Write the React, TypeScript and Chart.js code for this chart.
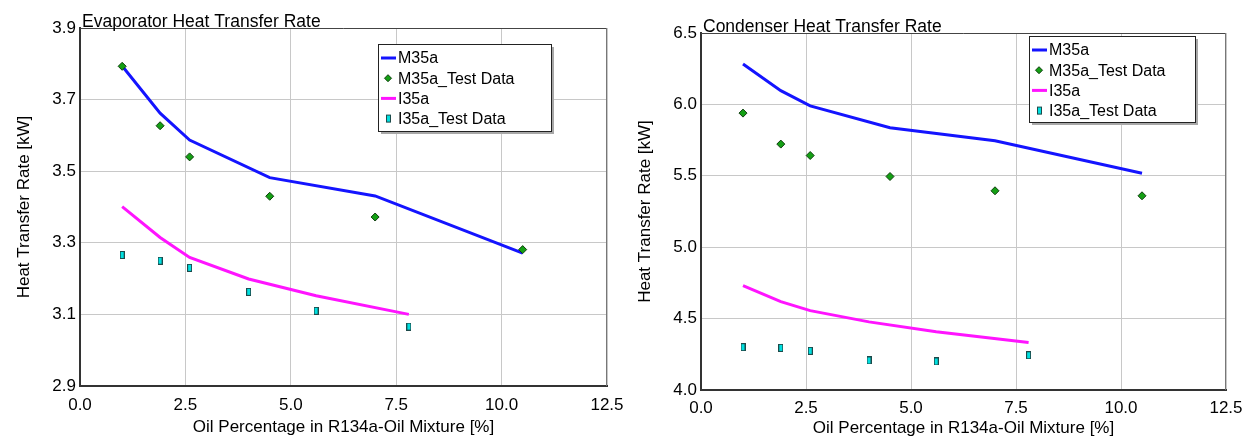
import React, { useEffect, useRef } from 'react';
import { Chart, registerables } from 'chart.js';

Chart.register(...registerables);

// ---- data ----
const xTicks = [0, 2.5, 5.0, 7.5, 10.0, 12.5];
const evapYTicks = [2.9, 3.1, 3.3, 3.5, 3.7, 3.9];
const condYTicks = [4.0, 4.5, 5.0, 5.5, 6.0, 6.5];

const m35aX = [1.0, 1.9, 2.6, 4.5, 7.0, 10.5];
const i35aX = [1.0, 1.9, 2.6, 4.0, 5.6, 7.8];

const evapM35a = [3.794, 3.662, 3.587, 3.482, 3.431, 3.271];
const evapM35aTest = [3.793, 3.627, 3.54, 3.43, 3.372, 3.281];
const evapI35a = [3.401, 3.315, 3.259, 3.199, 3.152, 3.1];
const evapI35aTest = [3.266, 3.25, 3.23, 3.163, 3.11, 3.066];

const condM35a = [6.283, 6.096, 5.99, 5.836, 5.745, 5.518];
const condM35aTest = [5.939, 5.722, 5.642, 5.495, 5.395, 5.36];
const condI35a = [4.731, 4.619, 4.556, 4.477, 4.408, 4.332];
const condI35aTest = [4.3, 4.295, 4.274, 4.207, 4.2, 4.243];

const seriesNames = ['M35a', 'M35a_Test Data', 'I35a', 'I35a_Test Data'];

const FONT = '"Liberation Sans", Arial, sans-serif';
const BLUE = '#1414ff';
const MAGENTA = '#ff14ff';
const GREEN = '#14a014';
const GREEN_EDGE = '#0d3d0d';
const CYAN = '#00e0e0';
const CYAN_EDGE = '#1d4a4a';

function makeRectMarker(): HTMLCanvasElement {
  const c = document.createElement('canvas');
  c.width = 5;
  c.height = 8;
  const g = c.getContext('2d')!;
  g.fillStyle = CYAN;
  g.fillRect(0.5, 0.5, 4, 7);
  g.strokeStyle = CYAN_EDGE;
  g.lineWidth = 1;
  g.strokeRect(0.5, 0.5, 4, 7);
  return c;
}

const pts = (xs: number[], ys: number[]) => xs.map((x, i) => ({ x, y: ys[i] }));

const framePlugin = {
  id: 'frame',
  afterDraw(chart: any, _args: any, opts: any) {
    const ctx = chart.ctx as CanvasRenderingContext2D;
    const { left, top, right, bottom } = chart.chartArea;
    ctx.save();
    // top & right frame lines
    ctx.lineWidth = 1;
    ctx.strokeStyle = '#444';
    ctx.beginPath();
    ctx.moveTo(left, top + 0.5);
    ctx.lineTo(right, top + 0.5);
    ctx.stroke();
    ctx.strokeStyle = '#777';
    ctx.beginPath();
    ctx.moveTo(right - 0.5, top);
    ctx.lineTo(right - 0.5, bottom);
    ctx.stroke();
    // title
    ctx.font = `17.5px ${FONT}`;
    ctx.fillStyle = '#000';
    ctx.textAlign = 'left';
    ctx.textBaseline = 'alphabetic';
    ctx.fillText(opts.title, left + 2, top - 1);
    // legend box
    const { x, y, w, h } = opts.legend;
    ctx.fillStyle = '#a8a8a8';
    ctx.fillRect(x + 3, y + 3, w, h);
    ctx.fillStyle = '#fff';
    ctx.fillRect(x, y, w, h);
    ctx.strokeStyle = '#222';
    ctx.strokeRect(x + 0.5, y + 0.5, w, h);
    ctx.font = `16px ${FONT}`;
    ctx.textBaseline = 'middle';
    seriesNames.forEach((name, i) => {
      const cy = y + 14 + i * 20.2;
      if (i === 0 || i === 2) {
        ctx.strokeStyle = i === 0 ? BLUE : MAGENTA;
        ctx.lineWidth = 3;
        ctx.beginPath();
        ctx.moveTo(x + 3, cy);
        ctx.lineTo(x + 18, cy);
        ctx.stroke();
      } else if (i === 1) {
        ctx.fillStyle = GREEN;
        ctx.strokeStyle = GREEN_EDGE;
        ctx.lineWidth = 1;
        ctx.beginPath();
        ctx.moveTo(x + 10, cy - 3.5);
        ctx.lineTo(x + 13.5, cy);
        ctx.lineTo(x + 10, cy + 3.5);
        ctx.lineTo(x + 6.5, cy);
        ctx.closePath();
        ctx.fill();
        ctx.stroke();
      } else {
        ctx.fillStyle = CYAN;
        ctx.strokeStyle = CYAN_EDGE;
        ctx.lineWidth = 1;
        ctx.fillRect(x + 8.5, cy - 3.5, 4, 7);
        ctx.strokeRect(x + 8.5, cy - 3.5, 4, 7);
      }
      ctx.fillStyle = '#000';
      ctx.fillText(name, x + 20, cy + 1);
    });
    ctx.restore();
  },
};

interface Geom {
  padTop: number;
  padRight: number;
  yWidth: number;
  xHeight: number;
  yTitlePad: number;
  xTitlePad: number;
  xTickPad: number;
}

interface PanelProps {
  left: number;
  title: string;
  yTicks: number[];
  m35a: number[];
  m35aTest: number[];
  i35a: number[];
  i35aTest: number[];
  geom: Geom;
  legend: { x: number; y: number; w: number; h: number };
}

function Panel(p: PanelProps) {
  const ref = useRef<HTMLCanvasElement>(null);
  useEffect(() => {
    if (!ref.current) return;
    const rectMarker = makeRectMarker();
    const g = p.geom;
    const chart = new Chart(ref.current, {
      type: 'scatter',
      data: {
        datasets: [
          {
            label: seriesNames[0],
            data: pts(m35aX, p.m35a),
            showLine: true,
            borderColor: BLUE,
            borderWidth: 3,
            pointRadius: 0,
            tension: 0,
            order: 2,
          },
          {
            label: seriesNames[1],
            data: pts(m35aX, p.m35aTest),
            showLine: false,
            pointStyle: 'rectRot',
            pointRadius: 4,
            backgroundColor: GREEN,
            borderColor: GREEN_EDGE,
            borderWidth: 1,
            order: 0,
          },
          {
            label: seriesNames[2],
            data: pts(i35aX, p.i35a),
            showLine: true,
            borderColor: MAGENTA,
            borderWidth: 3,
            pointRadius: 0,
            tension: 0,
            order: 2,
          },
          {
            label: seriesNames[3],
            data: pts(i35aX, p.i35aTest),
            showLine: false,
            pointStyle: rectMarker as any,
            pointRadius: 4,
            order: 0,
          },
        ] as any,
      },
      options: {
        animation: false,
        responsive: false,
        devicePixelRatio: 1,
        layout: { padding: { top: g.padTop, right: g.padRight, left: 0, bottom: 0 } },
        plugins: {
          legend: { display: false },
          tooltip: { enabled: false },
          title: { display: false },
          frame: { title: p.title, legend: p.legend },
        } as any,
        scales: {
          x: {
            type: 'linear',
            min: 0,
            max: 12.5,
            afterBuildTicks: (s: any) => {
              s.ticks = xTicks.map((v) => ({ value: v }));
            },
            afterFit: (s: any) => {
              s.height = g.xHeight;
              s.paddingLeft = 0;
              s.paddingRight = 0;
            },
            ticks: {
              padding: g.xTickPad,
              color: '#000',
              font: { family: FONT, size: 17 },
              callback: (v: any) => Number(v).toFixed(1),
              maxRotation: 0,
              autoSkip: false,
            },
            grid: { color: '#c8c8c8', lineWidth: 1, drawTicks: false },
            border: { display: true, color: '#333', width: 2 },
            title: {
              display: true,
              text: 'Oil Percentage in R134a-Oil Mixture [%]',
              color: '#000',
              font: { family: FONT, size: 17 },
              padding: { top: 0, bottom: g.xTitlePad },
            },
          },
          y: {
            type: 'linear',
            min: p.yTicks[0],
            max: p.yTicks[p.yTicks.length - 1],
            afterBuildTicks: (s: any) => {
              s.ticks = p.yTicks.map((v) => ({ value: v }));
            },
            afterFit: (s: any) => {
              s.width = g.yWidth;
              s.paddingTop = 0;
              s.paddingBottom = 0;
            },
            ticks: {
              padding: 4,
              color: '#000',
              font: { family: FONT, size: 17 },
              callback: (v: any) => Number(v).toFixed(1),
              autoSkip: false,
            },
            grid: { color: '#c8c8c8', lineWidth: 1, drawTicks: false },
            border: { display: true, color: '#333', width: 2 },
            title: {
              display: true,
              text: 'Heat Transfer Rate [kW]',
              color: '#000',
              font: { family: FONT, size: 17 },
              padding: { top: g.yTitlePad, bottom: 0 },
            },
          },
        },
      } as any,
      plugins: [framePlugin as any],
    });
    return () => chart.destroy();
  }, []);
  return (
    <canvas
      ref={ref}
      width={625}
      height={439}
      style={{ position: 'absolute', left: p.left, top: 0, width: 625, height: 439 }}
    />
  );
}

export default function App() {
  return (
    <div style={{ position: 'absolute', left: 0, top: 0, width: 1250, height: 439, background: '#fff' }}>
      <Panel
        left={0}
        title="Evaporator Heat Transfer Rate"
        yTicks={evapYTicks}
        m35a={evapM35a}
        m35aTest={evapM35aTest}
        i35a={evapI35a}
        i35aTest={evapI35aTest}
        geom={{ padTop: 28, padRight: 18, yWidth: 80, xHeight: 53, yTitlePad: 14, xTitlePad: 1, xTickPad: 9 }}
        legend={{ x: 378, y: 44, w: 173, h: 87 }}
      />
      <Panel
        left={625}
        title="Condenser Heat Transfer Rate"
        yTicks={condYTicks}
        m35a={condM35a}
        m35aTest={condM35aTest}
        i35a={condI35a}
        i35aTest={condI35aTest}
        geom={{ padTop: 33, padRight: 24, yWidth: 76, xHeight: 49, yTitlePad: 10, xTitlePad: 0, xTickPad: 8 }}
        legend={{ x: 404, y: 36, w: 166, h: 86 }}
      />
    </div>
  );
}
